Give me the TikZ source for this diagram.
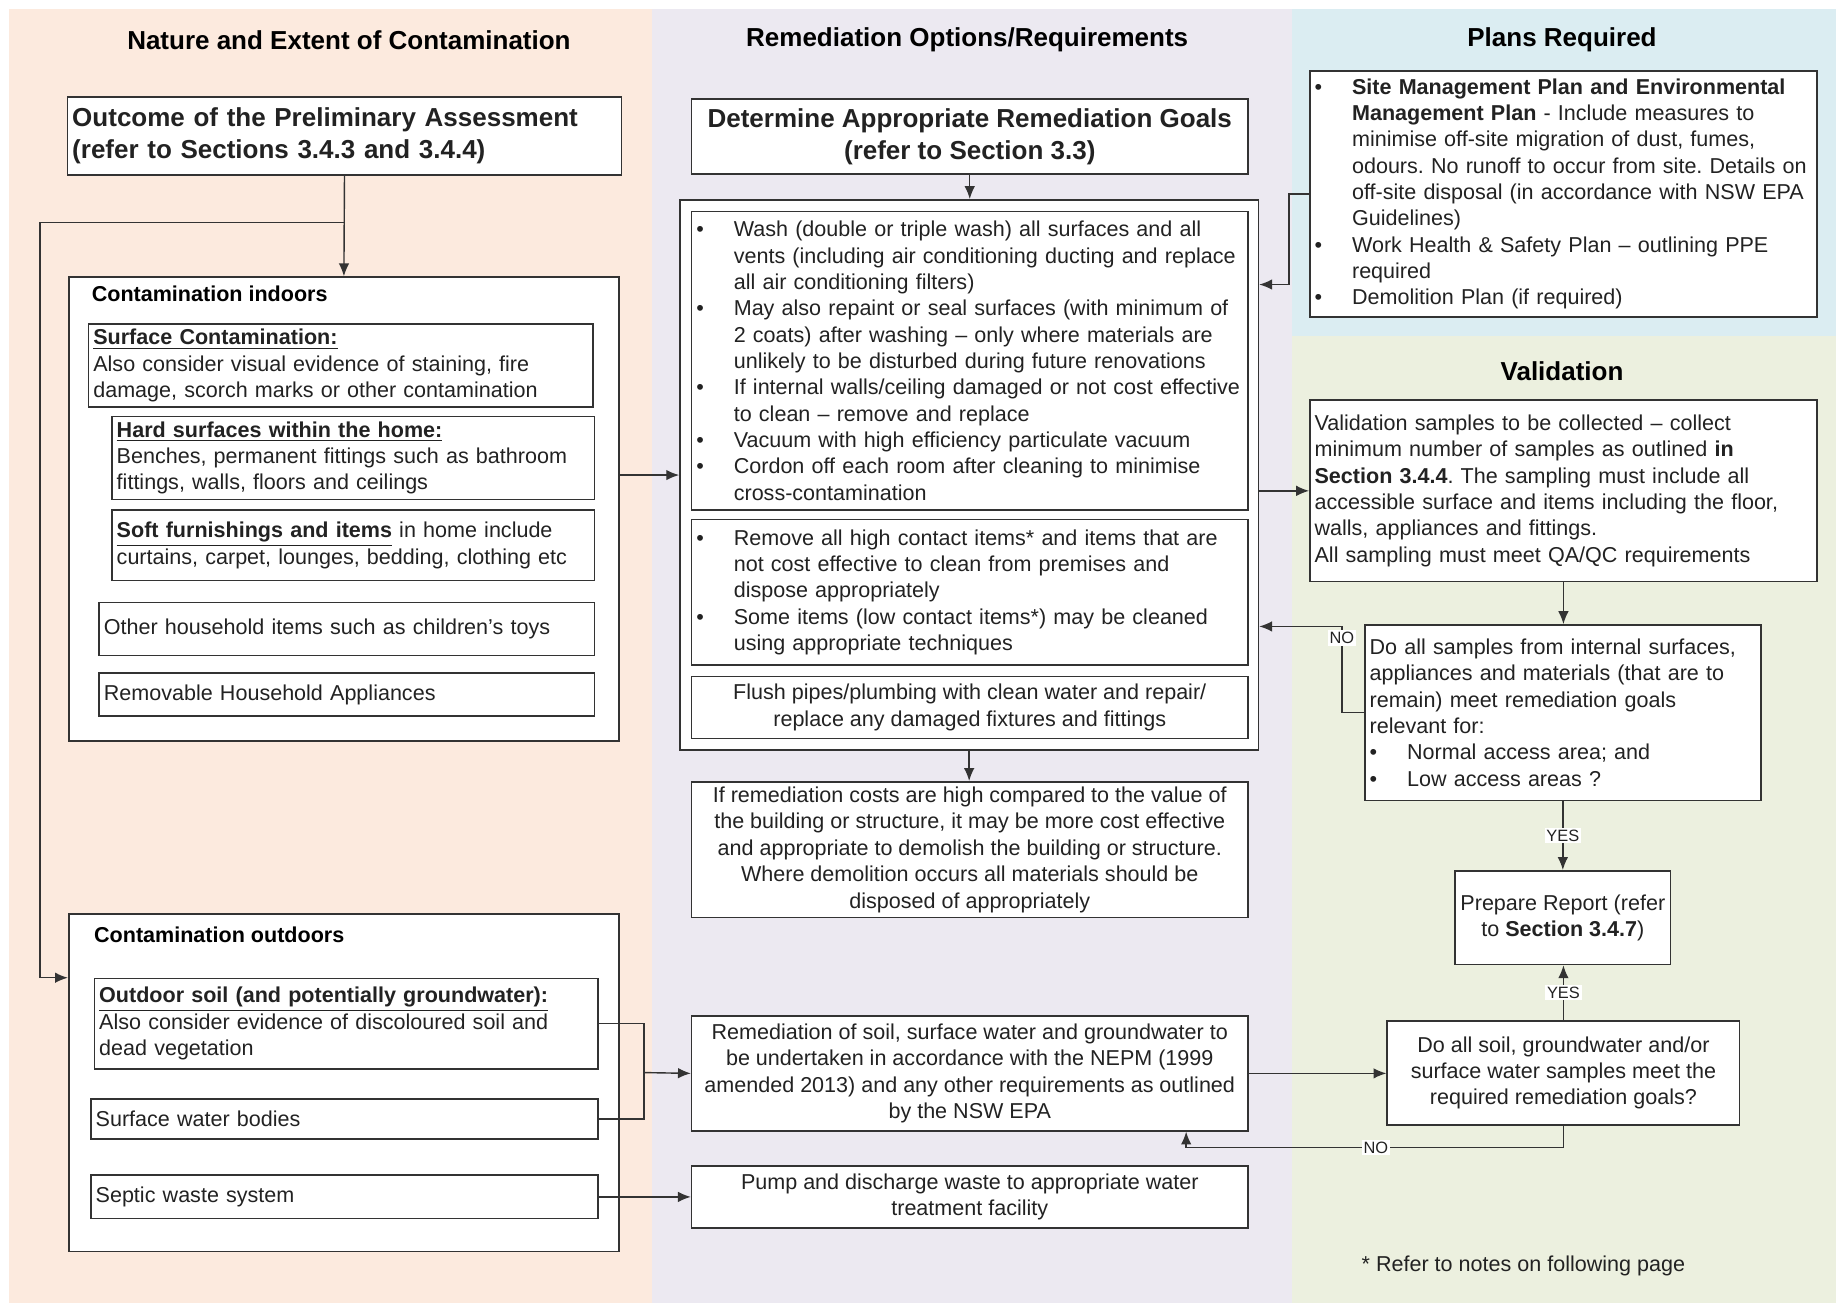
\documentclass[tikz,border=0pt]{standalone}
\usepackage{fontspec}
\setmainfont{Liberation Sans}
\usepackage{tikz}
\usetikzlibrary{arrows.meta,positioning,calc}
\setlength{\parindent}{0pt}
\frenchspacing
\definecolor{peach}{RGB}{252,234,222}
\definecolor{lilac}{RGB}{236,233,241}
\definecolor{aqua}{RGB}{219,237,242}
\definecolor{sage}{RGB}{236,240,223}
\definecolor{ink}{RGB}{34,34,34}
\definecolor{edge}{RGB}{51,51,51}
\newcommand{\bodyfont}{\fontsize{9.2}{11.25}\selectfont}
\newcommand{\headfont}{\fontsize{11.1}{13.5}\selectfont\bfseries}
\newcommand{\tagfont}{\fontsize{7}{8}\selectfont}
\newcommand{\ubf}[1]{\underline{\textbf{#1}}}
\newcommand{\bitem}[1]{\noindent\hangindent=16pt\hangafter=1\makebox[16pt][l]{\textbullet}#1\par}
\tikzset{
  wire/.style={draw=edge, line width=0.6pt},
  arr/.style={wire, -{Latex[length=5.5pt,width=4.5pt]}},
  frame/.style={draw=edge, line width=0.7pt, fill=white, anchor=north west, inner sep=0pt},
  box/.style={draw=edge, line width=0.7pt, fill=white, anchor=north west, inner xsep=2pt, inner ysep=1pt, font=\bodyfont, text=ink, align=left},
  cbox/.style={box, align=center},
  head/.style={font=\headfont, text=black},
  sub/.style={font=\bodyfont\bfseries, text=black, anchor=west, inner sep=0pt},
  note/.style={font=\bodyfont, text=ink},
  tag/.style={fill=white, inner sep=0.8pt, font=\tagfont, text=ink}
}

\begin{document}
\begin{tikzpicture}[x=0.5pt,y=-0.5pt]
  \useasboundingbox (0,0) rectangle (1568,1113);
  \fill[peach] (8,8) rectangle (557,1113);
  \fill[lilac] (557,8) rectangle (1103,1113);
  \fill[aqua] (1103,8) rectangle (1568,287);
  \fill[sage] (1103,287) rectangle (1568,1113);

  \node[head] (headnature) at (298,34) {Nature and Extent of Contamination};
  \node[head] (headremed) at (826,34) {Remediation Options/Requirements};
  \node[head] (headplans) at (1334,34) {Plans Required};
  \node[head] (headvalid) at (1334,317) {Validation};

  % nature and extent
  \node[box, font=\headfont, text width=232.5pt, minimum height=33.5pt] (outcome) at (57,82) {Outcome of the Preliminary Assessment\\(refer to Sections 3.4.3 and 3.4.4)};
  \node[frame, minimum width=235pt, minimum height=198pt] (indoors) at (58,236) {};
  \node[sub] (indoorstitle) at (78,251) {Contamination indoors};
  \node[box, text width=211.5pt, minimum height=35.5pt] (surface) at (75,276) {\ubf{Surface Contamination:}\\Also consider visual evidence of staining, fire\\damage, scorch marks or other contamination};
  \node[box, text width=202pt, minimum height=35.5pt] (hard) at (95,355) {\ubf{Hard surfaces within the home:}\\Benches, permanent fittings such as bathroom\\fittings, walls, floors and ceilings};
  \node[box, text width=202pt, minimum height=30pt] (soft) at (95,435) {\ubf{Soft furnishings and items} in home include\\curtains, carpet, lounges, bedding, clothing etc};
  \node[box, text width=207.5pt, minimum height=22.5pt] (toys) at (84,514) {Other household items such as children's toys};
  \node[box, text width=207.5pt, minimum height=18.5pt] (appliances) at (84,574) {Removable Household Appliances};

  \node[frame, minimum width=235pt, minimum height=144pt] (outdoors) at (58,780) {};
  \node[sub] (outdoorstitle) at (80,798) {Contamination outdoors};
  \node[box, text width=211pt, minimum height=38.5pt] (soil) at (80,835) {\ubf{Outdoor soil (and potentially groundwater):}\\Also consider evidence of discoloured soil and\\dead vegetation};
  \node[box, text width=212.5pt, minimum height=17pt] (water) at (77,938) {Surface water bodies};
  \node[box, text width=212.5pt, minimum height=18.5pt] (septic) at (77,1003) {Septic waste system};

  % remediation options
  \node[cbox, font=\headfont, minimum width=237.5pt, minimum height=32pt] (goals) at (590,84) {Determine Appropriate Remediation Goals\\(refer to Section 3.3)};
  \node[frame, minimum width=247pt, minimum height=235pt] (clean) at (580,170) {};
  \node[box, text width=233.5pt, minimum height=127.5pt] (wash) at (590,180) {%
    \bitem{Wash (double or triple wash) all surfaces and all\newline vents (including air conditioning ducting and replace\newline all air conditioning filters)}%
    \bitem{May also repaint or seal surfaces (with minimum of\newline 2 coats) after washing -- only where materials are\newline unlikely to be disturbed during future renovations}%
    \bitem{If internal walls/ceiling damaged or not cost effective\newline to clean -- remove and replace}%
    \bitem{Vacuum with high efficiency particulate vacuum}%
    \bitem{Cordon off each room after cleaning to minimise\newline cross-contamination}};
  \node[box, text width=233.5pt, minimum height=62pt] (remove) at (590,443) {%
    \bitem{Remove all high contact items* and items that are\newline not cost effective to clean from premises and\newline dispose appropriately}%
    \bitem{Some items (low contact items*) may be cleaned\newline using appropriate techniques}};
  \node[cbox, minimum width=237.5pt, minimum height=26.5pt] (flush) at (590,577) {Flush pipes/plumbing with clean water and repair/\\replace any damaged fixtures and fittings};
  \node[cbox, minimum width=237.5pt, minimum height=58pt] (demolish) at (590,667) {If remediation costs are high compared to the value of\\the building or structure, it may be more cost effective\\and appropriate to demolish the building or structure.\\Where demolition occurs all materials should be\\disposed of appropriately};
  \node[cbox, minimum width=237.5pt, minimum height=49pt] (soilrem) at (590,867) {Remediation of soil, surface water and groundwater to\\be undertaken in accordance with the NEPM (1999\\amended 2013) and any other requirements as outlined\\by the NSW EPA};
  \node[cbox, minimum width=237.5pt, minimum height=26.5pt] (pump) at (590,995) {Pump and discharge waste to appropriate water\\treatment facility};

  % plans and validation
  \node[box, text width=212.5pt, minimum height=105pt] (plans) at (1118,60) {%
    \bitem{\textbf{Site Management Plan and Environmental}\newline\textbf{Management Plan} - Include measures to\newline minimise off-site migration of dust, fumes,\newline odours. No runoff to occur from site. Details on\newline off-site disposal (in accordance with NSW EPA\newline Guidelines)}%
    \bitem{Work Health \& Safety Plan -- outlining PPE\newline required}%
    \bitem{Demolition Plan (if required)}};
  \node[box, text width=212.5pt, minimum height=77.5pt] (samples) at (1118,341) {Validation samples to be collected -- collect\\minimum number of samples as outlined \textbf{in}\\\textbf{Section 3.4.4}. The sampling must include all\\accessible surface and items including the floor,\\walls, appliances and fittings.\\All sampling must meet QA/QC requirements};
  \node[box, text width=165pt, minimum height=75pt] (internal) at (1165,533) {Do all samples from internal surfaces,\\appliances and materials (that are to\\remain) meet remediation goals\\relevant for:\par
    \bitem{Normal access area; and}%
    \bitem{Low access areas ?}};
  \node[cbox, minimum width=92pt, minimum height=40pt] (report) at (1242,743) {Prepare Report (refer\\to \textbf{Section 3.4.7})};
  \node[cbox, minimum width=150.5pt, minimum height=44.5pt] (external) at (1184,871) {Do all soil, groundwater and/or\\surface water samples meet the\\required remediation goals?};
  \node[note] (refnote) at (1301,1081) {* Refer to notes on following page};

  % connectors
  \coordinate (rail) at (34,190);
  \draw[arr] (outcome.south) -- (indoors.north);
  \draw[arr] (outcome.south |- rail) -- (rail) |- (outdoors.west |- soil.north);
  \draw[arr] (indoors.east |- clean.west) -- (clean.west);
  \coordinate (join) at (550,916);
  \draw[wire] (soil.east) -| (join);
  \draw[wire] (water.east) -| (join);
  \draw[arr] (join) -- (soilrem.west);
  \draw[arr] (septic.east) -- (pump.west);
  \draw[arr] (goals.south) -- (goals.south |- clean.north);
  \draw[arr] (clean.south) -- (clean.south |- demolish.north);
  \coordinate (plansbend) at (1101,243);
  \draw[arr] (plans.west) -| (plansbend) -- (clean.east |- plansbend);
  \draw[arr] (clean.east |- samples.west) -- (samples.west);
  \draw[arr] (samples.south) -- (samples.south |- internal.north);
  \coordinate (nobend) at (1146,535);
  \draw[arr] (internal.west) -| (nobend) -- (clean.east |- nobend);
  \node[tag] (notagone) at (1146,545) {NO};
  \draw[arr] (internal.south) -- node[tag] (yestagone) {YES} (internal.south |- report.north);
  \draw[arr] (external.north) -- node[tag] (yestagtwo) {YES} (external.north |- report.south);
  \draw[arr] (soilrem.east) -- (soilrem.east -| external.west);
  \coordinate (soilback) at (1013,980);
  \draw[arr] (external.south) |- (soilback) -- (soilback |- soilrem.south);
  \node[tag] (notagtwo) at (1175,980) {NO};
\end{tikzpicture}
\end{document}
